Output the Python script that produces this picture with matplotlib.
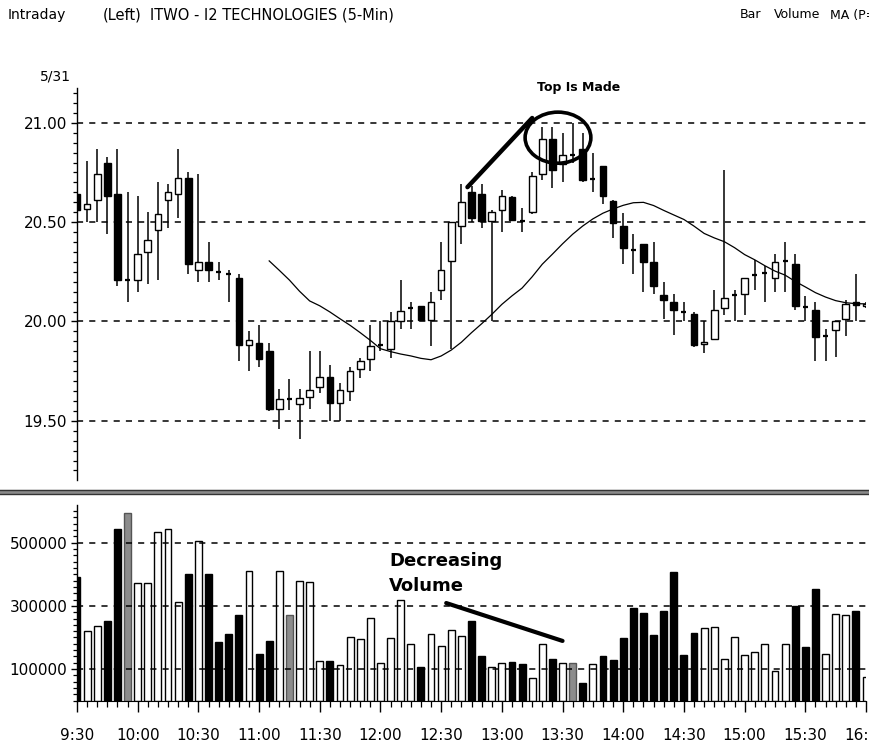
"""
Intraday 5-min candlestick chart for ITWO with volume panel (5/31).
"""

import matplotlib
matplotlib.use("Agg")
import matplotlib.pyplot as plt
from matplotlib.patches import Ellipse
from matplotlib.lines import Line2D
from matplotlib.ticker import MultipleLocator, FixedLocator
import numpy as np
import pandas as pd

# ---- data (one entry per 5-min bar, 9:30 .. 16:00) ----
opens = [20.64, 20.565, 20.61, 20.80, 20.64, 20.21, 20.21, 20.35, 20.46, 20.61,
         20.64, 20.72, 20.26, 20.30, 20.25, 20.24, 20.22, 19.88, 19.89, 19.85,
         19.56, 19.61, 19.585, 19.62, 19.67, 19.72, 19.59, 19.65, 19.76, 19.81,
         19.88, 19.86, 20.00, 20.07, 20.08, 20.005, 20.16, 20.305, 20.48, 20.65,
         20.64, 20.505, 20.56, 20.625, 20.505, 20.55, 20.74, 20.92, 20.79, 20.84,
         20.87, 20.715, 20.78, 20.605, 20.48, 20.36, 20.39, 20.30, 20.135, 20.10,
         20.05, 20.04, 19.886, 19.91, 20.067, 20.135, 20.14, 20.235, 20.245, 20.22,
         20.305, 20.29, 20.075, 20.06, 19.925, 19.955, 20.01, 20.10, 20.08]
highs = [20.66, 20.81, 20.87, 20.83, 20.87, 20.65, 20.63, 20.55, 20.70, 20.69,
         20.87, 20.75, 20.74, 20.40, 20.30, 20.26, 20.24, 19.95, 19.98, 19.89,
         19.66, 19.71, 19.66, 19.85, 19.85, 19.78, 19.69, 19.77, 19.815, 19.98,
         20.00, 20.05, 20.21, 20.10, 20.08, 20.15, 20.40, 20.50, 20.69, 20.68,
         20.69, 20.56, 20.66, 20.63, 20.57, 20.75, 20.98, 20.98, 20.95, 21.00,
         20.95, 20.85, 20.78, 20.61, 20.545, 20.44, 20.39, 20.40, 20.20, 20.14,
         20.10, 20.05, 20.00, 20.16, 20.76, 20.16, 20.22, 20.31, 20.28, 20.34,
         20.40, 20.34, 20.13, 20.10, 19.96, 20.00, 20.11, 20.24, 20.10]
lows = [20.40, 20.50, 20.50, 20.44, 20.18, 20.10, 20.15, 20.19, 20.21, 20.47,
        20.52, 20.24, 20.20, 20.20, 20.21, 20.10, 19.80, 19.75, 19.77, 19.55,
        19.46, 19.555, 19.41, 19.56, 19.64, 19.50, 19.50, 19.60, 19.715, 19.75,
        19.85, 19.815, 19.96, 19.96, 20.00, 19.875, 20.11, 19.86, 20.39, 20.50,
        20.47, 20.00, 20.45, 20.505, 20.45, 20.54, 20.71, 20.67, 20.70, 20.80,
        20.70, 20.65, 20.59, 20.42, 20.29, 20.24, 20.15, 20.14, 20.01, 19.93,
        20.00, 19.87, 19.84, 19.91, 20.03, 20.00, 20.03, 20.16, 20.10, 20.15,
        20.15, 20.06, 20.00, 19.80, 19.80, 19.82, 19.925, 20.00, 20.07]
closes = [20.56, 20.59, 20.74, 20.63, 20.21, 20.21, 20.34, 20.41, 20.54, 20.65,
          20.72, 20.29, 20.30, 20.26, 20.25, 20.24, 19.88, 19.905, 19.81, 19.56,
          19.61, 19.61, 19.615, 19.655, 19.72, 19.59, 19.655, 19.75, 19.80, 19.875,
          19.88, 20.00, 20.055, 20.07, 20.005, 20.10, 20.26, 20.50, 20.60, 20.52,
          20.505, 20.55, 20.63, 20.51, 20.505, 20.73, 20.92, 20.76, 20.84, 20.84,
          20.71, 20.715, 20.63, 20.495, 20.37, 20.36, 20.30, 20.18, 20.11, 20.06,
          20.05, 19.88, 19.896, 20.06, 20.12, 20.135, 20.22, 20.235, 20.245, 20.30,
          20.305, 20.08, 20.075, 19.92, 19.925, 20.00, 20.09, 20.085, 20.09]
volumes = [390000, 221000, 236000, 253000, 542000, 595000, 373000, 373000, 533000, 542000,
           313000, 400000, 505000, 400000, 186000, 211000, 271000, 411000, 147000, 190000,
           410000, 271000, 380000, 376000, 125000, 125000, 113000, 202000, 194000, 262000,
           120000, 199000, 320000, 178000, 105000, 211000, 174000, 223000, 205000, 252000,
           142000, 105000, 120000, 123000, 115000, 72000, 178000, 132000, 120000, 120000,
           57000, 115000, 142000, 128000, 197000, 292000, 278000, 208000, 283000, 406000,
           146000, 215000, 229000, 233000, 132000, 201000, 146000, 154000, 178000, 94000,
           178000, 300000, 169000, 355000, 147000, 274000, 270000, 283000, 75000]
time_labels = ['9:30', '10:00', '10:30', '11:00', '11:30', '12:00', '12:30',
               '13:00', '13:30', '14:00', '14:30', '15:00', '15:30', '16:00']
price_ticks = [19.50, 20.00, 20.50, 21.00]
volume_ticks = [100000, 300000, 500000]
ma_period = 20

W, H = 869, 746
plt.rcParams['font.family'] = ['DejaVu Sans']


def fx(x):
    return x / W


def fy(y):
    return 1 - y / H


o = np.array(opens)
h = np.array(highs)
l = np.array(lows)
c = np.array(closes)
v = np.array(volumes)
x = np.arange(len(c))
ma = pd.Series(c).rolling(ma_period).mean()

fig = plt.figure(figsize=(W / 100, H / 100), dpi=100)
ax = fig.add_axes([fx(77), fy(480), (866 - 77) / W, (480 - 88) / H])
axv = fig.add_axes([fx(77), fy(700.6), (866 - 77) / W, (700.6 - 505) / H])

# ---- price panel ----
for yv in price_ticks:
    ax.axhline(yv, color='black', lw=1.1, ls=(0, (4, 4)), zorder=1)

ax.vlines(x, l, h, color='black', lw=1.1, zorder=2)
up = c > o
down = c < o
flat = c == o
ax.bar(x[up], (c - o)[up], bottom=o[up], width=0.66, facecolor='white',
       edgecolor='black', lw=1.0, zorder=3)
ax.bar(x[down], (o - c)[down], bottom=c[down], width=0.66, facecolor='black',
       edgecolor='black', lw=1.0, zorder=3)
ax.hlines(c[flat], x[flat] - 0.25, x[flat] + 0.25, color='black', lw=1.6, zorder=3)

ax.plot(x, ma, color='black', lw=0.9, zorder=4)

ax.set_xlim(0, len(c) - 1)
ax.set_ylim(19.202, 21.175)
for s in ['top', 'right', 'bottom']:
    ax.spines[s].set_visible(False)
ax.spines['left'].set_linewidth(1.0)
ax.set_xticks([])
ax.yaxis.set_major_locator(FixedLocator(price_ticks))
ax.yaxis.set_minor_locator(MultipleLocator(0.05))
ax.set_yticklabels([f'{t:.2f}' for t in price_ticks])
ax.tick_params(axis='y', which='major', length=4, width=1.0, pad=3, labelsize=11)
ax.tick_params(axis='y', which='minor', length=3, width=0.9)

# "Top Is Made" annotation
ax.plot([38.6, 45.0], [20.676, 21.024], color='black', lw=3.2,
        solid_capstyle='round', zorder=5, clip_on=False)
ax.add_patch(Ellipse((47.55, 20.925), 6.5, 0.257, facecolor='none',
                     edgecolor='black', lw=2.6, zorder=5, clip_on=False))
fig.text(fx(579), fy(87), 'Top Is Made', fontsize=9, fontweight='bold',
         ha='center', va='center')

# ---- volume panel ----
for yv in volume_ticks:
    axv.axhline(yv, color='black', lw=1.1, ls=(0, (4, 4)), zorder=3)

prev = np.r_[c[0] + 1, c[:-1]]
vol_up = c > prev
vol_down = c < prev
vol_flat = c == prev
axv.bar(x[vol_up], v[vol_up], width=0.68, facecolor='none', edgecolor='black',
        lw=1.0, zorder=2)
axv.bar(x[vol_down], v[vol_down], width=0.68, facecolor='black', edgecolor='black',
        lw=1.0, zorder=2)
axv.bar(x[vol_flat], v[vol_flat], width=0.68, facecolor='#8c8c8c', edgecolor='#555555',
        lw=1.0, zorder=2)

axv.set_xlim(0, len(c) - 1)
axv.set_ylim(0, 619500)
for s in ['top', 'right']:
    axv.spines[s].set_visible(False)
axv.spines['left'].set_linewidth(1.0)
axv.spines['bottom'].set_linewidth(0.8)
axv.yaxis.set_major_locator(FixedLocator(volume_ticks))
axv.yaxis.set_minor_locator(MultipleLocator(20000))
axv.set_yticklabels([str(t) for t in volume_ticks])
axv.tick_params(axis='y', which='major', length=4, width=1.0, pad=3, labelsize=11)
axv.tick_params(axis='y', which='minor', length=3, width=0.9)
axv.xaxis.set_major_locator(FixedLocator(np.arange(0, len(c), 6)))
axv.xaxis.set_minor_locator(MultipleLocator(1))
axv.set_xticklabels(time_labels)
axv.tick_params(axis='x', which='major', length=8, width=1.0, pad=12, labelsize=11)
axv.tick_params(axis='x', which='minor', length=4, width=0.9)

# "Decreasing Volume" annotation
axv.plot([36.5, 48.0], [309000, 189000], color='black', lw=3.0,
         solid_capstyle='round', zorder=5)
fig.text(fx(389), fy(566), 'Decreasing', fontsize=13, fontweight='bold',
         ha='left', va='baseline')
fig.text(fx(389), fy(591), 'Volume', fontsize=13, fontweight='bold',
         ha='left', va='baseline')

# separator between the panels
fig.add_artist(Line2D([0, 1], [fy(492.2)] * 2, color='#8a8a8a', lw=3.0))
fig.add_artist(Line2D([0, 1], [fy(490.4)] * 2, color='#333333', lw=1.0))
fig.add_artist(Line2D([0, 1], [fy(494.0)] * 2, color='#333333', lw=1.0))

# header
fig.text(fx(8), fy(15), 'Intraday', fontsize=10, ha='left', va='center')
fig.text(fx(40), fy(77), '5/31', fontsize=10, ha='left', va='center')
fig.text(fx(103), fy(15), '(Left)', fontsize=10.5, ha='left', va='center')
fig.text(fx(150), fy(15), 'ITWO - I2 TECHNOLOGIES (5-Min)', fontsize=10.5,
         ha='left', va='center')
fig.text(fx(740), fy(15), 'Bar', fontsize=9, ha='left', va='center')
fig.text(fx(774), fy(15), 'Volume', fontsize=9, ha='left', va='center')
fig.text(fx(830), fy(15), 'MA (P=', fontsize=9, ha='left', va='center')

fig.savefig('out.png', dpi=100, facecolor='white')
plt.close(fig)
